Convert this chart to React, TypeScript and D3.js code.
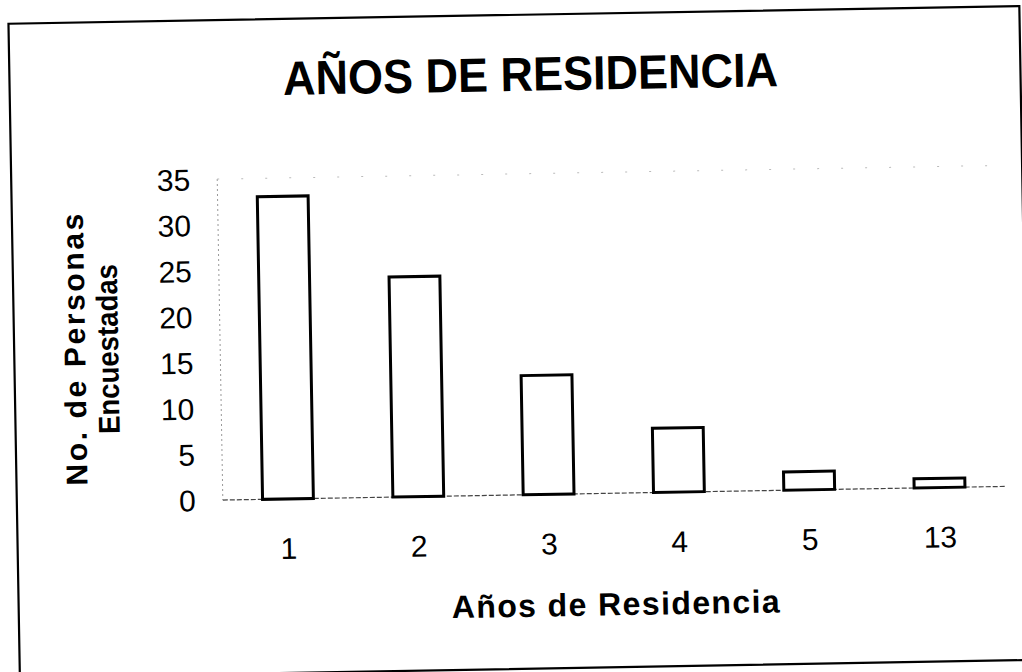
import React from "react";
import * as d3 from "d3";

const categories: string[] = ["1", "2", "3", "4", "5", "13"];
const values: number[] = [33, 24, 13, 7, 2, 1];
const yTicks: number[] = [0, 5, 10, 15, 20, 25, 30, 35];
const chartTitle = "AÑOS DE RESIDENCIA";
const xTitle = "Años de Residencia";
const yTitleLines: string[] = ["No. de Personas", "Encuestadas"];

const W = 1022;
const H = 672;
const plot = { left: 220, right: 1002, top: 174, bottom: 495 };
const FONT = "'Liberation Sans', Arial, Helvetica, sans-serif";

export default function App() {
  const x = d3
    .scaleBand<string>()
    .domain(categories)
    .range([plot.left, plot.right])
    .paddingInner(0.61)
    .paddingOuter(0.305);
  const y = d3.scaleLinear().domain([0, 35]).range([plot.bottom, plot.top]);

  const yMid = 342;

  return (
    <svg
      width={W}
      height={H}
      viewBox={`0 0 ${W} ${H}`}
      style={{ position: "absolute", left: 0, top: 0, background: "#fff" }}
      fontFamily={FONT}
    >
      <rect x={0} y={0} width={W} height={H} fill="#fff" />
      <g transform={`rotate(-1.0, ${W / 2}, ${H / 2})`}>
        {/* outer frame */}
        <rect x={14} y={15} width={1011} height={654} fill="none" stroke="#000" strokeWidth={2.2} />

        {/* title */}
        <text
          x={535}
          y={91}
          textAnchor="middle"
          fontSize={48}
          fontWeight="bold"
          textLength={495}
          lengthAdjust="spacingAndGlyphs"
          fill="#000"
        >
          {chartTitle}
        </text>

        {/* plot area border */}
        <line x1={plot.left} x2={plot.left} y1={plot.top} y2={plot.bottom} stroke="#999" strokeWidth={1} strokeDasharray="2,3" />
        <line x1={plot.left} x2={plot.right} y1={plot.top} y2={plot.top} stroke="#bbb" strokeWidth={1} strokeDasharray="2,22" />
        <line x1={plot.left} x2={plot.right} y1={plot.bottom} y2={plot.bottom} stroke="#444" strokeWidth={1.2} strokeDasharray="5,2" />

        {/* bars */}
        {categories.map((c, i) => (
          <rect
            key={c}
            x={x(c)!}
            y={y(values[i])}
            width={x.bandwidth()}
            height={y(0) - y(values[i])}
            fill="#fff"
            stroke="#000"
            strokeWidth={3}
          />
        ))}

        {/* y tick labels */}
        {yTicks.map((t) => (
          <text key={t} x={193} y={y(t)} dy="0.36em" textAnchor="end" fontSize={30} fill="#000">
            {t}
          </text>
        ))}

        {/* x tick labels */}
        {categories.map((c) => (
          <text key={c} x={x(c)! + x.bandwidth() / 2} y={555} textAnchor="middle" fontSize={30} fill="#000">
            {c}
          </text>
        ))}

        {/* x axis title */}
        <text
          x={611}
          y={617}
          textAnchor="middle"
          fontSize={32}
          fontWeight="bold"
          textLength={328}
          lengthAdjust="spacing"
          fill="#000"
        >
          {xTitle}
        </text>

        {/* y axis title */}
        <text
          transform={`translate(85, ${yMid}) rotate(-90)`}
          textAnchor="middle"
          fontSize={30}
          fontWeight="bold"
          textLength={272}
          lengthAdjust="spacing"
          fill="#000"
        >
          {yTitleLines[0]}
        </text>
        <text
          transform={`translate(118, ${yMid}) rotate(-90)`}
          textAnchor="middle"
          fontSize={30}
          fontWeight="bold"
          textLength={170}
          lengthAdjust="spacingAndGlyphs"
          fill="#000"
        >
          {yTitleLines[1]}
        </text>
      </g>
    </svg>
  );
}
